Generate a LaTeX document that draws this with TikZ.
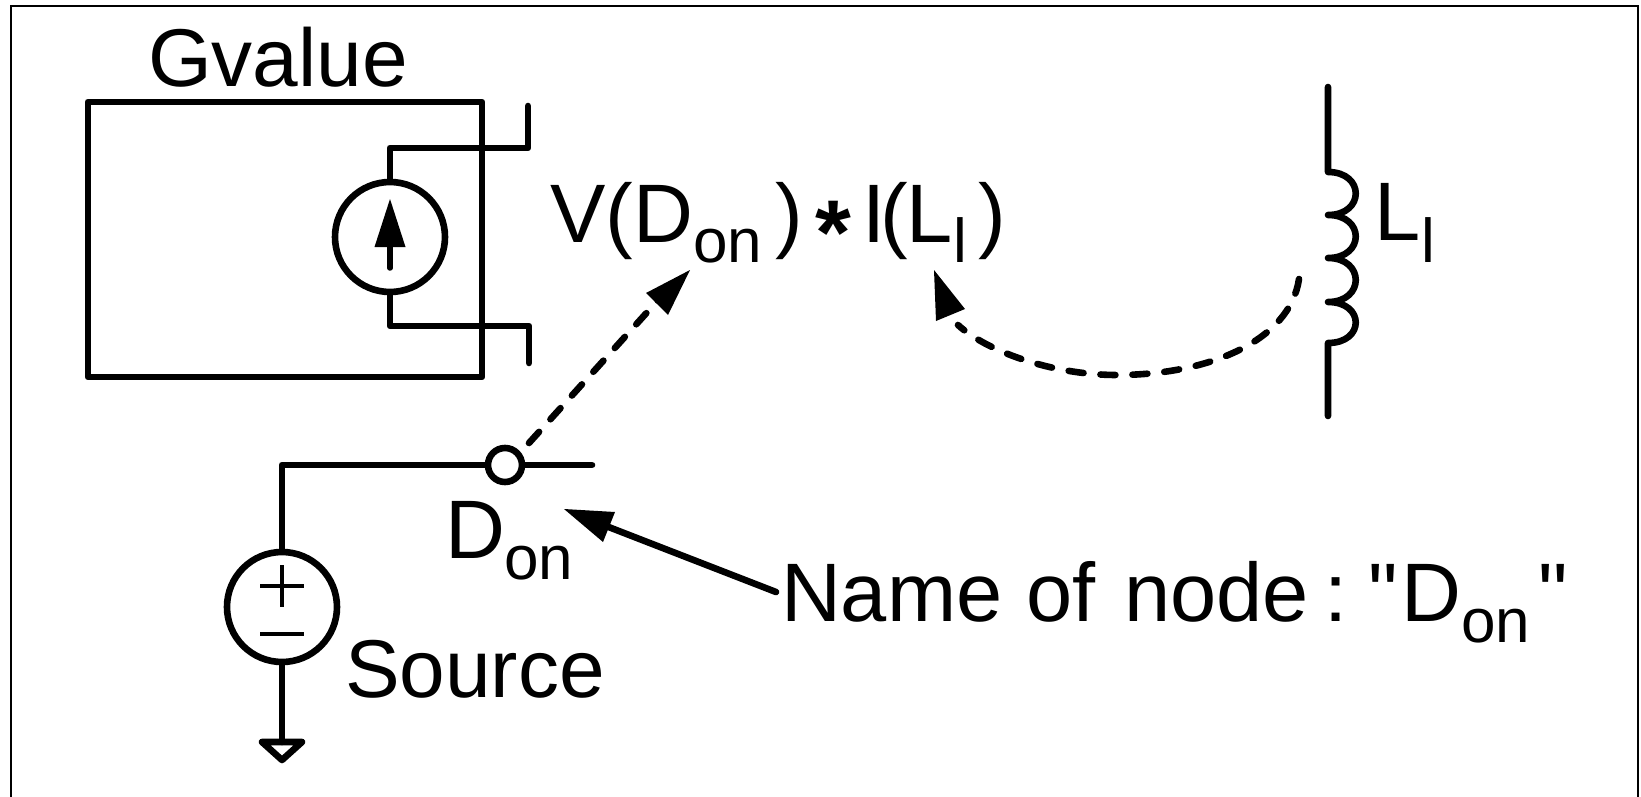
\documentclass[tikz,border=0pt]{standalone}
\usepackage{fontspec}
\setmainfont{Liberation Sans}
\newfontfamily\plainfont{Liberation Sans}
\newfontfamily\heavyfont{Liberation Sans Bold}
\newcommand{\bigtxt}{\plainfont\fontsize{83}{84}\selectfont}
\newcommand{\midtxt}{\plainfont\fontsize{82}{84}\selectfont}
\newcommand{\subtxt}{\plainfont\fontsize{62}{64}\selectfont}
\tikzset{
  wire/.style={line width=6.6pt,line cap=round,line join=round},
  dashwire/.style={line width=6.6pt,line cap=round,dash pattern=on 15pt off 17pt},
  ring/.style={circle,draw,line width=6.6pt,inner sep=0pt},
  head/.style={fill=black,draw=none},
  lab/.style={anchor=base west,inner sep=0pt,outer sep=0pt},
}
\begin{document}
\begin{tikzpicture}[x=1pt,y=-1pt]
\useasboundingbox (0,0) rectangle (1641,797);
\draw[line width=2.5pt] (11,797) |- (1638,6) -- (1638,797);
% Gvalue block
\node[lab] (gv) at (148,87) {\midtxt Gvalue};
\coordinate (ba) at (88,102); \coordinate (bb) at (482,377);
\draw[wire] (ba) rectangle (bb);
\node[ring,minimum size=110pt] (gs) at (390,237) {};
\coordinate (t1) at (528,106); \coordinate (t2) at (529,363);
\draw[wire] (gs.north) -- (390,148) -| (t1);
\draw[wire] (gs.south) -- (390,326) -| (t2);
\coordinate (ga) at (390,268);
\coordinate (gb) at (390,245);
\draw[line width=5.5pt,line cap=round] (ga) -- (gb);
\fill[head] (390,199) -- (405.5,247) -- (374.5,247) -- cycle;
% Source
\node[ring,minimum size=110pt] (src) at (282,607) {};
\node[ring,minimum size=34pt] (don) at (505,465) {};
\coordinate (stub) at (592,465);
\draw[wire] (src.north) |- (don.west);
\draw[wire] (don.east) -- (stub);
\draw[line width=4.5pt] (260,586) -- (304,586) (282,565) -- (282,607);
\draw[line width=4.5pt] (260,634) -- (304,634);
\coordinate (gt) at (282,742);
\draw[wire] (src.south) -- (gt);
\draw[wire] (262,742) -- (302,742) -- (282,760) -- cycle;
% labels
\node[lab] (dl) at (445,558) {\bigtxt D};
\node[lab] (dls) at (504.5,579) {\subtxt on};
\node[lab] (srcl) at (345,697) {\midtxt Source};
% expression
\node[lab] (e1) at (550,242) {\bigtxt V(D};
\node[lab] (e2) at (693.5,262) {\subtxt on};
\node[lab] (e3) at (775,242) {\bigtxt )};
\node[lab] (e4) at (815,264) {\heavyfont\fontsize{92}{92}\selectfont *};
\node[lab] (e5) at (862,242) {\bigtxt I};
\node[lab] (e5b) at (880,242) {\bigtxt (};
\node[lab] (e5c) at (906,242) {\bigtxt L};
\node[lab] (e6) at (953,262) {\subtxt l};
\node[lab] (e7) at (978,242) {\bigtxt )};
% name of node
\node[lab] (n1) at (781,621) {\bigtxt Name};
\node[lab] (n1b) at (1026,621) {\bigtxt of};
\node[lab] (n1c) at (1124.5,621) {\bigtxt node};
\node[lab] (n2) at (1324,621) {\bigtxt :};
\node[lab] (n3) at (1368,621) {\bigtxt "};
\node[lab] (n3b) at (1401,621) {\bigtxt D};
\node[lab] (n4) at (1461.5,642) {\subtxt on};
\node[lab] (n5) at (1538,621) {\bigtxt "};
% inductor
\coordinate (la) at (1328,87); \coordinate (lb) at (1328,172);
\coordinate (lc) at (1328,215); \coordinate (ld) at (1328,258);
\coordinate (le) at (1328,302); \coordinate (lf) at (1328,343);
\coordinate (lg) at (1328,416);
\draw[wire] (la) -- (lb)
  .. controls (1365,172) and (1365,215) .. (lc)
  .. controls (1365,215) and (1365,258) .. (ld)
  .. controls (1365,258) and (1365,302) .. (le)
  .. controls (1365,302) and (1365,343) .. (lf) -- (lg);
\node[lab] (ll) at (1374,240) {\bigtxt L};
\node[lab] (lls) at (1421,262) {\subtxt l};
% arrows
\coordinate (d1) at (529,443); \coordinate (d2) at (660,298);
\draw[dashwire] (d1) -- (d2);
\fill[head] (690,270) -- (668,315) -- (646,293) -- cycle;
\coordinate (n0) at (776,592); \coordinate (n9) at (606,526);
\draw[wire] (n0) -- (n9);
\fill[head] (564,509) -- (615,512) -- (603,542) -- cycle;
\coordinate (c1) at (1299,279); \coordinate (cm) at (1117,375); \coordinate (c2) at (958,325);
\draw[dashwire] (c1) .. controls (1290,340) and (1210,375) .. (cm)
  .. controls (1050,375) and (985,350) .. (c2);
\fill[head] (934,270) -- (965,309) -- (936,321) -- cycle;
\end{tikzpicture}
\end{document}
